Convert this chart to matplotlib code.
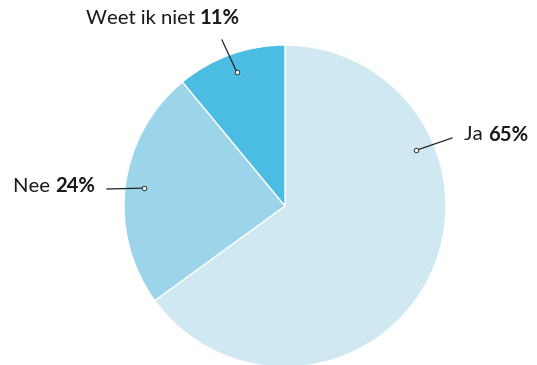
import numpy as np
import matplotlib.pyplot as plt

labels = ['Ja', 'Nee', 'Weet ik niet']
values = [65, 24, 11]
colors = ['#cfe8f2', '#9cd4ea', '#4bbde2']

plt.rcParams['font.family'] = ['Lato', 'DejaVu Sans']

W, H = 537, 365
fig = plt.figure(figsize=(W / 100, H / 100), dpi=100)
ax = fig.add_axes([0, 0, 1, 1])

cx, cy, r = 285, H - 206, 161
wedges, _ = ax.pie(values, colors=colors, startangle=90, counterclock=False,
                   center=(cx, cy), radius=r, frame=True,
                   wedgeprops=dict(edgecolor='white', linewidth=1))
ax.set_xlim(0, W)
ax.set_ylim(0, H)
ax.axis('off')

# dot angle (deg), line end, text anchor, alignment
label_pos = {
    'Ja': (23, (452, H - 138), (464, H - 135), 'left'),
    'Nee': (None, (107, H - 189), (95, H - 186), 'right'),
    'Weet ik niet': (None, (222, H - 40), (163, H - 18), 'center'),
}

fig.canvas.draw()
renderer = fig.canvas.get_renderer()
for w, lab, val in zip(wedges, labels, values):
    ang, lend, tpos, ha = label_pos[lab]
    if ang is None:
        ang = (w.theta1 + w.theta2) / 2
    dx = cx + 0.885 * r * np.cos(np.radians(ang))
    dy = cy + 0.885 * r * np.sin(np.radians(ang))
    ax.plot([dx, lend[0]], [dy, lend[1]], color='#222222', lw=0.9, zorder=3)
    ax.plot(dx, dy, 'o', ms=3.2, mfc='white', mec='#333333', mew=0.7, zorder=4)

    t1 = ax.text(0, tpos[1], lab + ' ', fontsize=14.6, va='center', ha='left', color='#1a1a1a')
    t2 = ax.text(0, tpos[1], f'{val}%', fontsize=14.6, va='center', ha='left',
                 fontweight='bold', color='#1a1a1a')
    w1 = t1.get_window_extent(renderer).width
    w2 = t2.get_window_extent(renderer).width
    total = w1 + w2
    if ha == 'left':
        x0 = tpos[0]
    elif ha == 'right':
        x0 = tpos[0] - total
    else:
        x0 = tpos[0] - total / 2
    t1.set_x(x0)
    t2.set_x(x0 + w1)

fig.savefig('out.png', dpi=100)
